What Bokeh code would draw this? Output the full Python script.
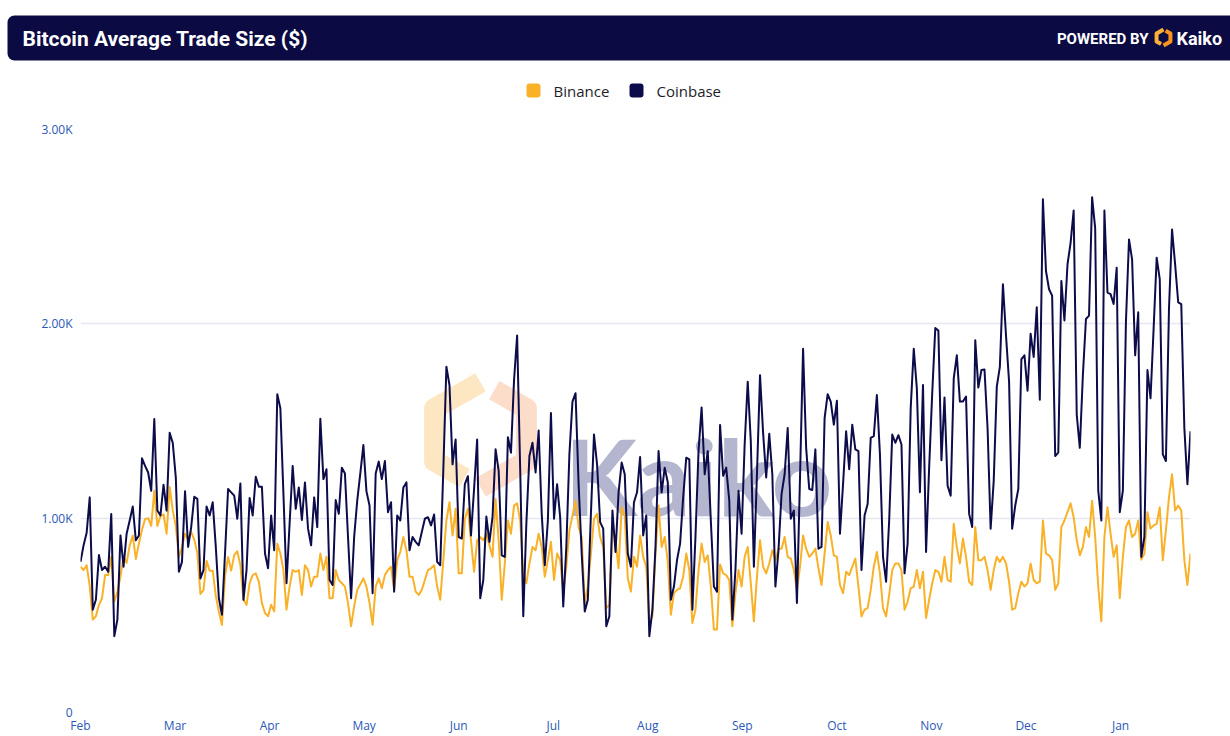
import numpy as np
from bokeh.plotting import figure
from bokeh.models import Range1d, FixedTicker, BoxAnnotation
from bokeh.core.properties import value
from bokeh.embed import file_html
from bokeh.resources import INLINE

# ---------------- data ----------------
title_text = "Bitcoin Average Trade Size ($)"
series_names = ["Binance", "Coinbase"]
series_colors = ["#f9b128", "#0d0c4a"]
month_labels = ["Feb", "Mar", "Apr", "May", "Jun", "Jul", "Aug", "Sep", "Oct", "Nov", "Dec", "Jan"]
y_ticks = [0, 1000, 2000, 3000]
y_tick_labels = ["0", "1.00K", "2.00K", "3.00K"]
DAYS_PER_MONTH = 30.75  # daily observations, month ticks evenly spaced

binance = [
    750, 733, 758, 650, 478, 495, 554, 588, 707, 707, 801, 571, 620, 700, 801, 770, 860, 910, 790, 870,
    940, 995, 1000, 960, 1141, 960, 1010, 1020, 920, 1160, 1040, 960, 800, 850, 920, 890, 930, 890, 820, 610,
    630, 780, 730, 730, 600, 520, 450, 700, 800, 730, 810, 830,
    758, 580, 554, 665, 707, 716, 673, 563, 512, 495, 554, 520, 869, 818, 733, 529, 648, 733, 724, 733,
    605, 758, 733, 648, 699, 699, 818, 733, 801, 588, 588, 733, 682, 665, 648, 563, 444, 546, 631, 660,
    690, 648, 563, 452, 648, 690, 639, 707, 733, 750, 631, 784,
    826, 903, 835, 699, 699, 622, 605, 631, 682, 733, 742, 758, 648, 580, 784, 988, 1082, 911, 1048, 716,
    716, 997, 1048, 886, 724, 886, 903, 886, 920, 860, 801, 1099, 886, 580, 767, 988, 920, 1065, 1076, 988,
    716, 665, 767, 852, 835, 920, 852, 699, 784, 878, 682, 818, 784,
    622, 750, 937, 1014, 1090, 954, 903, 563, 648, 818, 997, 1022, 903, 852, 537, 554, 954, 886, 742, 1056,
    1014, 690, 622, 801, 750, 911, 801, 750, 461, 495, 818, 1065, 852, 903, 775, 503, 614, 631, 639, 699,
    818, 733, 461, 529, 733, 869, 775, 809, 648, 427, 427,
    762, 716, 707, 682, 444, 614, 733, 648, 801, 852, 665, 469, 699, 886, 750, 716, 767, 835, 784, 843,
    843, 903, 801, 792, 733, 631, 750, 911, 843, 801, 818, 843, 742, 656, 818, 980, 911, 809, 801, 656,
    614, 724, 707, 750, 792, 648, 495, 529, 537, 631, 750, 826,
    716, 537, 495, 605, 733, 767, 767, 733, 529, 571, 639, 648, 733, 639, 724, 486, 580, 665, 733, 724,
    673, 801, 682, 673, 971, 852, 767, 895, 801, 673, 656, 954, 784, 784, 801, 733, 631, 733, 801, 775,
    801, 767, 673, 529, 537, 614, 673, 648, 665, 767, 682, 665,
    673, 988, 818, 809, 784, 631, 665, 954, 988, 1031, 1076, 1005, 886, 809, 852, 954, 903, 1090, 903, 648,
    469, 903, 1056, 920, 801, 860, 588, 801, 954, 988, 903, 920, 988, 787, 818, 1031, 946, 963, 971, 1056,
    784, 937, 1107, 1226, 1039, 1065, 1039, 784, 656, 818,
]

coinbase = [
    775, 860, 925, 1107, 529, 580, 810, 733, 750, 724, 1022, 393, 478, 911, 750, 920, 988, 1060, 886, 911,
    1308, 1269, 1235, 1141, 1510, 1039, 1014, 1172, 1039, 1439, 1388, 1209, 724, 775, 1138, 852, 954, 1110, 1099, 690,
    733, 1060, 1014, 1082, 852, 588, 503, 818, 1150, 1133, 1116, 997,
    1179, 580, 733, 1104, 1014, 1213, 1162, 1162, 818, 742, 1014, 835, 1638, 1566, 1124, 665, 971, 1269, 1048, 1158,
    991, 1184, 946, 860, 1107, 954, 1512, 1201, 1252, 682, 656, 1093, 1022, 1260, 1230, 903, 588, 903, 1090, 1230,
    1376, 1138, 1065, 614, 1230, 1291, 1201, 1294, 1031, 1082, 622, 1014,
    988, 1158, 1184, 835, 903, 878, 860, 929, 997, 1005, 963, 1019, 775, 758, 1250, 1779, 1685, 1277, 1405, 903,
    895, 1175, 1216, 911, 1150, 1405, 588, 682, 1008, 878, 1005, 1354, 1243, 809, 801, 1417, 1337, 1711, 1940, 1250,
    495, 971, 1320, 1388, 1235, 1451, 1022, 758, 988, 1541, 997, 1175, 1005,
    546, 852, 1328, 1600, 1643, 1175, 818, 520, 580, 1022, 1430, 1277, 980, 946, 444, 495, 1039, 826, 1133, 1286,
    1226, 818, 750, 1082, 1133, 1315, 911, 1014, 393, 529, 852, 1345, 1133, 1260, 1184, 580, 648, 784, 869, 1107,
    1311, 1302, 529, 903, 1345, 1570, 1226, 1345, 988, 648, 622,
    1480, 1218, 1260, 1090, 478, 733, 1141, 920, 1379, 1702, 1396, 750, 1226, 1736, 1439, 1209, 1434, 1226, 648, 835,
    1124, 1226, 1464, 997, 1039, 563, 1209, 1872, 1362, 1150, 1145, 1354, 843, 852, 1515, 1638, 1600, 1481, 1604, 920,
    1175, 1447, 1252, 1481, 1354, 1345, 733, 1014, 1073, 1413, 1422, 1634,
    1328, 801, 673, 988, 1430, 1388, 1427, 1379, 716, 869, 1566, 1872, 1668, 1133, 1685, 826, 1260, 1643, 1978, 1966,
    1298, 1621, 1167, 1116, 1719, 1838, 1600, 1600, 1626, 1022, 954, 1915, 1672, 1762, 1765, 1464, 946, 1192, 1677, 1779,
    2204, 1940, 1702, 946, 1065, 1150, 1818, 1838, 1656, 1949, 1830, 2085,
    1609, 2641, 2272, 2178, 2145, 1320, 1337, 2221, 2017, 2306, 2417, 2583, 1532, 1362, 1736, 2025, 2042, 2651, 2493, 1141,
    988, 2583, 2161, 2153, 2102, 2289, 1031, 1141, 2008, 2434, 2332, 1838, 2059, 801, 903, 1762, 1617, 1974, 2340, 2230,
    1328, 1294, 2076, 2485, 2306, 2111, 2102, 1464, 1175, 1447,
]

series_values = [binance, coinbase]

NAVY = "#0d0c4a"
BAR = "#0b0a42"
TICK_BLUE = "#2b58b6"
W = 1230
HEAD_H = 100
TOTAL_H = 736

# ---------------- header (title bar + legend) ----------------
h = figure(width=W, height=HEAD_H, x_range=Range1d(0, W), y_range=Range1d(HEAD_H, 0),
           output_backend="svg", toolbar_location=None, min_border=0,
           x_axis_location=None, y_axis_location=None)
h.grid.visible = False
h.outline_line_color = None

h.add_layout(BoxAnnotation(left=7, right=W + 12, top=15, bottom=60, fill_color=BAR,
                           fill_alpha=1, line_color=None, border_radius=7, level="underlay"))
h.text(x=[22], y=[38], text=[title_text], text_color="white", text_font=value("Roboto"),
       text_font_style="bold", text_font_size="21px", text_baseline="middle", text_align="left")
h.text(x=[1148], y=[38], text=["POWERED BY"], text_color="white", text_font=value("Roboto"),
       text_font_style="bold", text_font_size="15px", text_baseline="middle", text_align="right")
h.text(x=[1176], y=[38], text=["Kaiko"], text_color="white", text_font=value("Roboto"),
       text_font_style="bold", text_font_size="18px", text_baseline="middle", text_align="left")


def hex_pieces(cx, cy, r, sx=1.0, sy=1.0):
    # pointy-top hexagon split into two brackets
    ang = np.deg2rad([90, 150, 210, 270, 330, 30])
    vx = cx + r * np.cos(ang) * sx
    vy = cy - r * np.sin(ang) * sy
    top, ul, ll, bot, lr, ur = list(zip(vx, vy))
    mid = lambda a, b, t: (a[0] + (b[0] - a[0]) * t, a[1] + (b[1] - a[1]) * t)
    left = [top, ul, ll, mid(ll, bot, 0.65)]
    right = [mid(top, ur, 0.3), ur, lr, bot]
    return left, right


lp, rp = hex_pieces(1163, 37, 8)
h.line([q[0] for q in lp], [q[1] for q in lp], line_color="#fbb03b", line_width=4, line_join="round")
h.line([q[0] for q in rp], [q[1] for q in rp], line_color="#f7931e", line_width=4, line_join="round")

# legend
leg_x = [526, 629]
for lx, name, col in zip(leg_x, series_names, series_colors):
    h.add_layout(BoxAnnotation(left=lx, right=lx + 14, top=83, bottom=97, fill_color=col,
                               fill_alpha=1, line_color=None, border_radius=3))
    h.text(x=[lx + 27], y=[90], text=[name], text_color="#1d1d2b", text_font=value("Open Sans"),
           text_font_size="15px", text_baseline="middle", text_align="left")

# ---------------- main chart ----------------
n = len(coinbase)
x_end = (n - 1) / DAYS_PER_MONTH
p = figure(width=W, height=TOTAL_H - HEAD_H, x_range=Range1d(0, x_end), y_range=Range1d(0, 3000),
           output_backend="svg", toolbar_location=None,
           min_border_left=80, min_border_right=40, min_border_top=29, min_border_bottom=19)
p.outline_line_color = None
p.background_fill_color = "white"
p.xgrid.visible = False
p.ygrid.ticker = FixedTicker(ticks=y_ticks)
p.ygrid.grid_line_color = "#e5e7f1"
p.ygrid.grid_line_width = 1.5

p.yaxis.ticker = FixedTicker(ticks=y_ticks)
p.yaxis.major_label_overrides = dict(zip(y_ticks, y_tick_labels))
p.xaxis.ticker = FixedTicker(ticks=list(range(len(month_labels))))
p.xaxis.major_label_overrides = {i: m for i, m in enumerate(month_labels)}
for ax in (p.xaxis, p.yaxis):
    ax.axis_line_color = None
    ax.major_tick_line_color = None
    ax.minor_tick_line_color = None
    ax.major_tick_out = 0
    ax.major_tick_in = 0
    ax.minor_tick_out = 0
    ax.minor_tick_in = 0
    ax.major_label_text_color = TICK_BLUE
    ax.major_label_text_font = "Open Sans"
p.yaxis.major_label_text_font_size = "12px"
p.yaxis.major_label_standoff = 8
p.xaxis.major_label_text_font_size = "12px"
p.xaxis.major_label_standoff = 4

# watermark (page pixel -> data)
px_per_month = 1110 / x_end
mx = lambda px: (px - 80) / px_per_month
my = lambda py: (717 - py) / 588 * 3000

wl, wr = hex_pieces(480, 437, 53)
p.line([mx(q[0]) for q in wl], [my(q[1]) for q in wl], line_color="#f9a825", line_alpha=0.28,
       line_width=21, line_join="round")
p.line([mx(q[0]) for q in wr], [my(q[1]) for q in wr], line_color="#f2762a", line_alpha=0.25,
       line_width=21, line_join="round")
p.text(x=[mx(564)], y=[my(477)], text=["Kaiko"], text_color="#b4b6d0", text_font=value("Lato"),
       text_font_style="bold", text_font_size="106px", text_baseline="alphabetic", text_align="left")

for vals, col in zip(series_values, series_colors):
    xs = np.arange(len(vals)) / DAYS_PER_MONTH
    p.line(xs, vals, line_color=col, line_width=2, line_join="round")

open("out.html", "w").write(file_html([h, p], INLINE))
